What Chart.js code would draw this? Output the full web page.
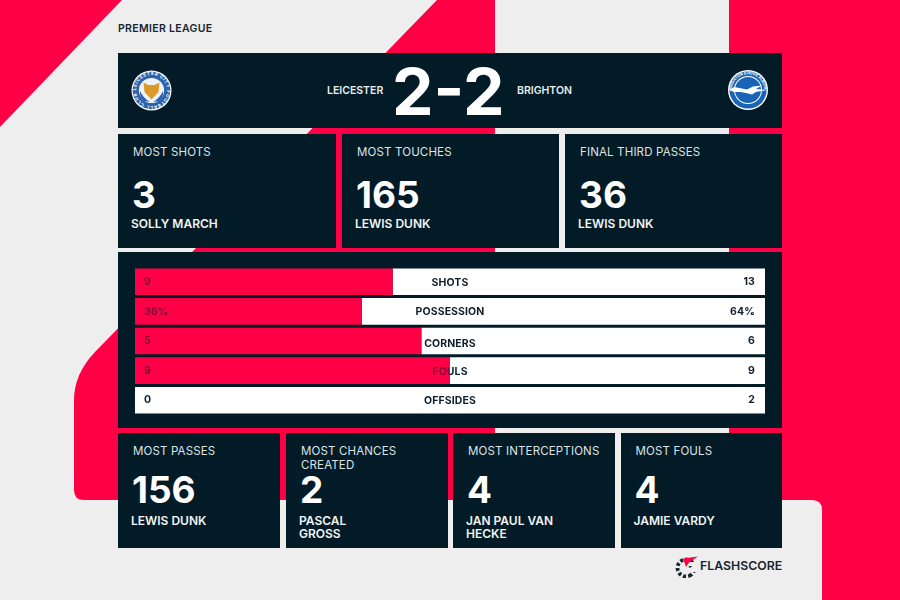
<!DOCTYPE html>
<html>
<head>
<meta charset="utf-8">
<title>Leicester 2-2 Brighton</title>
<script src="https://cdn.jsdelivr.net/npm/chart.js@4"></script>
<style>
    * { box-sizing: border-box; }
    html, body { margin: 0; padding: 0; }
    body { width: 900px; height: 600px; overflow: hidden; background: #eeeeef; font-family: Inter, "Noto Sans", sans-serif; position: relative; }
    #fundo { position: absolute; left: 0; top: 0; }
    .painel { position: absolute; background: #021b27; color: #fff; }
    #liga { position: absolute; left: 118px; top: 22px; font-size: 10.5px; line-height: 14px; font-weight: 600; letter-spacing: 0.33px; color: #16262f; }
    .time { position: absolute; top: 84px; font-size: 10.5px; line-height: 14px; font-weight: 600; letter-spacing: 0; color: #e9edef; }
    #placar { position: absolute; left: 392px; top: 60px; font-size: 64px; line-height: 64px; font-weight: 700; color: #fff; transform: scaleX(1.03); transform-origin: left; white-space: nowrap; }
    .titulo { position: absolute; left: 15px; top: 11px; font-size: 11.5px; line-height: 14px; font-weight: 400; letter-spacing: 0.15px; color: #dde3e7; white-space: pre; }
    .numero { position: absolute; left: 14px; font-size: 37px; line-height: 30px; font-weight: 700; color: #fff; }
    .nome { position: absolute; left: 13px; font-size: 12px; line-height: 13px; font-weight: 600; letter-spacing: 0; color: #f2f4f5; white-space: pre; }
    #barras { position: absolute; left: 135px; top: 267px; width: 630px; height: 148px; }
    #marca { position: absolute; left: 700px; top: 558px; font-size: 12.3px; line-height: 16px; font-weight: 600; letter-spacing: 0; color: #16262f; white-space: nowrap; }
</style>
</head>
<body>

<svg id="fundo" width="900" height="600">
    <path fill="#ff0046" d="M0 0 L122 0 L0 127 Z" />
    <path fill="#ff0046" d="M437 0 L495 0 L495 500 L84 500 Q74 500 74 490 L74 400 Q74 374 95 352 Z" />
    <path fill="#ff0046" d="M729 0 L900 0 L900 600 L822 600 L822 510 Q822 500 812 500 L729 500 Z" />
</svg>

<div class="painel" style="left:118px;top:53px;width:664px;height:75px"></div>
<div class="painel" style="left:118px;top:252px;width:664px;height:176px"></div>

<div id="liga">PREMIER LEAGUE</div>
<div class="time" style="left:327px">LEICESTER</div>
<div id="placar">2-2</div>
<div class="time" style="left:517px">BRIGHTON</div>

<svg style="position:absolute;left:130px;top:69px" width="44" height="44" viewBox="0 0 44 44">
    <circle cx="21.5" cy="21.5" r="20" fill="#ffffff" />
    <circle cx="21.5" cy="21.5" r="18.8" fill="#2a62ab" />
    <circle cx="21.5" cy="21.5" r="12.6" fill="#eef2f6" />
    <path fill="#2a62ab" d="M10 22 Q13 29 20 33 L14 32 Q9 28 10 22 Z M33 22 Q30 29 23 33 L29 32 Q34 28 33 22 Z" />
    <path fill="#dc9a2a" d="M13.5 13.5 L18.5 16 L24.5 16 L29.5 13.5 L28.5 23 L21.5 30.5 L14.5 23 Z" />
    <defs><path id="arcoLeicester" d="M6 21.5 A15.5 15.5 0 1 1 37 21.5 A15.5 15.5 0 1 1 6 21.5" /></defs>
    <text font-size="4.4" font-weight="700" fill="#ffffff" font-family="Inter"><textPath href="#arcoLeicester" textLength="94">LEICESTER CITY FOOTBALL CLUB</textPath></text>
</svg>

<svg style="position:absolute;left:726px;top:69px" width="44" height="44" viewBox="0 0 44 44">
    <circle cx="22" cy="21" r="20" fill="#ffffff" />
    <circle cx="22" cy="21" r="18.6" fill="#1a64b7" />
    <circle cx="22" cy="21" r="14" fill="#ffffff" />
    <circle cx="22" cy="21" r="13" fill="#1a64b7" />
    <path fill="#ffffff" d="M3 21 L8 18 L16 19.5 L21 20.5 L27 17.5 L36 16.5 L30 20 L41 21 L30 23 L26 25.5 L20 24 L14 23 L8 23 Z" />
    <defs><path id="arcoBrighton" d="M6.8 27 A16.2 16.2 0 1 1 37.2 27" /></defs>
    <text font-size="3.7" font-weight="700" fill="#ffffff" font-family="Inter" text-anchor="middle"><textPath href="#arcoBrighton" startOffset="50%">BRIGHTON &amp; HOVE ALBION</textPath></text>
</svg>

<div id="cartoes"></div>

<canvas id="barras" width="630" height="148"></canvas>

<svg style="position:absolute;left:674px;top:556px" width="26" height="22" viewBox="0 0 26 22">
    <circle cx="12" cy="12" r="8.5" fill="none" stroke="#16262f" stroke-width="3.8" stroke-dasharray="3 2.2" transform="rotate(55 12 12)" pathLength="53.4" />
    <rect x="13" y="6" width="14" height="10" fill="#eeeeef" />
    <rect x="9" y="7" width="10" height="8" fill="#eeeeef" />
    <path fill="#ff0046" d="M9 2.5 L24 0.5 L15 6.5 L12 11 Z" />
    <path fill="#16262f" d="M15 10 L18 10 L17 11.5 L14.5 11.5 Z" />
</svg>
<div id="marca">FLASHSCORE</div>

<script>
// linha de cima
var titulosCima = ["MOST SHOTS", "MOST TOUCHES", "FINAL THIRD PASSES"];
var numerosCima = ["3", "165", "36"];
var nomesCima = ["SOLLY MARCH", "LEWIS DUNK", "LEWIS DUNK"];

// linha de baixo
var titulosBaixo = ["MOST PASSES", "MOST CHANCES\nCREATED", "MOST INTERCEPTIONS", "MOST FOULS"];
var numerosBaixo = ["156", "2", "4", "4"];
var nomesBaixo = ["LEWIS DUNK", "PASCAL\nGROSS", "JAN PAUL VAN\nHECKE", "JAMIE VARDY"];

// barras
var categorias = ["SHOTS", "POSSESSION", "CORNERS", "FOULS", "OFFSIDES"];
var valoresCasa = [9, 36, 5, 9, 0];
var valoresFora = [13, 64, 6, 9, 2];
var sufixos = ["", "%", "", "", ""];

var corVermelha = "#ff0046";
var corEscura = "#0f1f2b";
var corSobreVermelho = "#7c0a3a";

var cartoes = document.getElementById("cartoes");

function criarCartao(esquerda, topo, largura, altura, titulo, numero, nome, topoNumero, topoNome) {
    cartoes.innerHTML += `
        <div class="painel" style="left:${esquerda}px;top:${topo}px;width:${largura}px;height:${altura}px">
            <div class="titulo">${titulo}</div>
            <div class="numero" style="top:${topoNumero}px">${numero}</div>
            <div class="nome" style="top:${topoNome}px">${nome}</div>
        </div>
    `;
}

var xCima = [118, 342, 565];
for (var i = 0; i < titulosCima.length; i++) {
    criarCartao(xCima[i], 134, 218 - (i > 0 ? 1 : 0), 114, titulosCima[i], numerosCima[i], nomesCima[i], 45.5, 83);
}

var xBaixo = [118, 286, 453, 620.5];
for (var j = 0; j < titulosBaixo.length; j++) {
    criarCartao(xBaixo[j], 433, 162 - (j > 0 ? 0.5 : 0), 115, titulosBaixo[j], numerosBaixo[j], nomesBaixo[j], 41.5, 81);
}

// parte da barra em percentual, os dois lados somam 100
var parteCasa = [];
var parteFora = [];
for (var k = 0; k < categorias.length; k++) {
    var total = valoresCasa[k] + valoresFora[k];
    parteCasa.push(valoresCasa[k] / total * 100);
    parteFora.push(valoresFora[k] / total * 100);
}

// ajuste fino das legendas em relacao ao centro da barra
var ajusteLegenda = [1.5, 0, 2.5, 1, 0.5];

var textosBarras = {
    id: "textosBarras",
    afterDatasetsDraw: function (chart) {
        var ctx = chart.ctx;
        var meta = chart.getDatasetMeta(0);
        var escalaX = chart.scales.x;

        ctx.save();
        ctx.font = "700 10.5px Inter";
        ctx.textBaseline = "middle";
        ctx.letterSpacing = "0.1px";

        for (var i = 0; i < categorias.length; i++) {
            var barra = meta.data[i];
            var y = barra.y;
            var limite = barra.x;
            var topo = y - barra.height / 2;

            // o texto escurece quando passa por cima do vermelho
            for (var passo = 0; passo < 2; passo++) {
                ctx.save();
                ctx.beginPath();
                if (passo == 0) {
                    ctx.rect(escalaX.left, topo, limite - escalaX.left, barra.height);
                    ctx.fillStyle = corSobreVermelho;
                } else {
                    ctx.rect(limite, topo, escalaX.right - limite, barra.height);
                    ctx.fillStyle = corEscura;
                }
                ctx.clip();

                ctx.textAlign = "left";
                ctx.fillText(valoresCasa[i] + sufixos[i], escalaX.left + 9, y);
                ctx.textAlign = "center";
                ctx.fillText(categorias[i], (escalaX.left + escalaX.right) / 2, y + ajusteLegenda[i]);
                ctx.textAlign = "right";
                ctx.fillText(valoresFora[i] + sufixos[i], escalaX.right - 10, y);
                ctx.restore();
            }
        }
        ctx.restore();
    }
};

new Chart(document.getElementById("barras"), {
    type: "bar",
    data: {
        labels: categorias,
        datasets: [
            { label: "Leicester", data: parteCasa, backgroundColor: corVermelha, categoryPercentage: 1, barPercentage: 0.9 },
            { label: "Brighton", data: parteFora, backgroundColor: "#ffffff", categoryPercentage: 1, barPercentage: 0.9 }
        ]
    },
    options: {
        indexAxis: "y",
        responsive: false,
        animation: false,
        layout: { padding: 0 },
        plugins: { legend: { display: false }, tooltip: { enabled: false }, title: { display: false } },
        scales: {
            x: { stacked: true, min: 0, max: 100, display: false },
            y: { stacked: true, display: false }
        }
    },
    plugins: [textosBarras]
});
</script>
</body>
</html>
